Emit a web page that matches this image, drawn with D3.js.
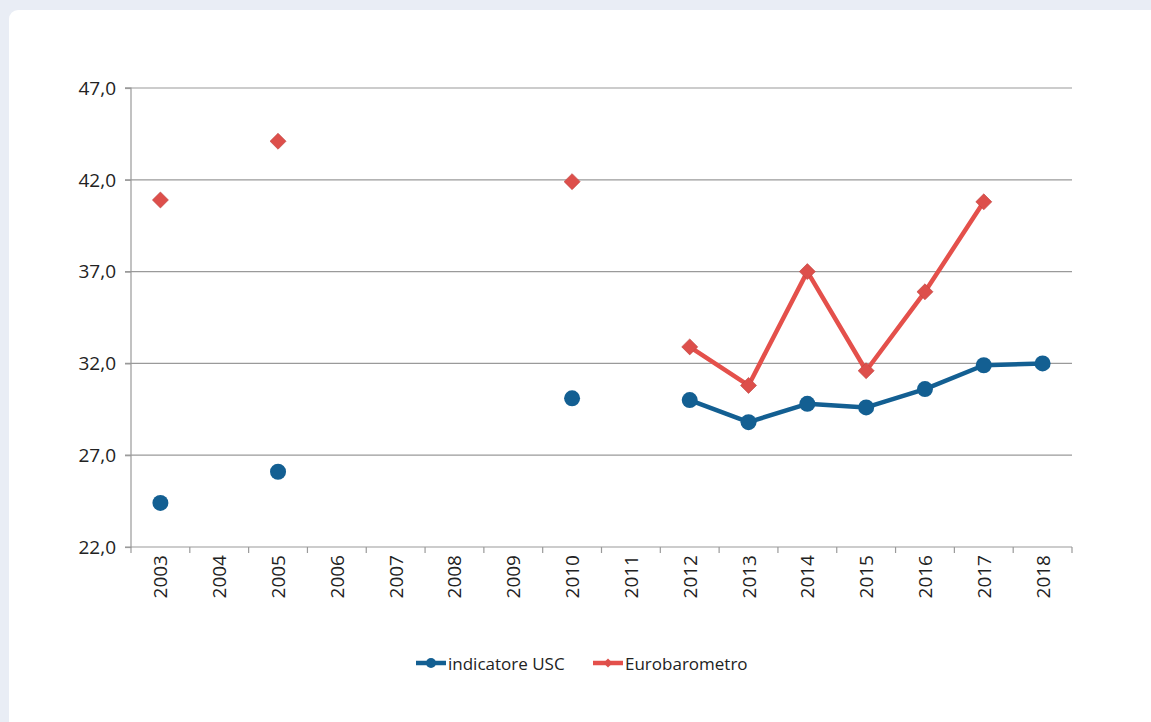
<!DOCTYPE html>
<html><head><meta charset="utf-8">
<script src="https://cdn.jsdelivr.net/npm/d3@7"></script>
<style>
html,body{margin:0;padding:0;background:#e9edf5;}
svg{display:block;font-family:"Open Sans","Noto Sans",sans-serif;}
</style></head>
<body>
<svg id="chart" width="1151" height="722"></svg>
<script>
const years = ["2003","2004","2005","2006","2007","2008","2009","2010","2011","2012","2013","2014","2015","2016","2017","2018"];
const usc = [24.4,null,26.1,null,null,null,null,30.1,null,30.0,28.8,29.8,29.6,30.6,31.9,32.0];
const euro = [40.9,null,44.1,null,null,null,null,41.9,null,32.9,30.8,37.0,31.6,35.9,40.8,null];
const yTicks = [22,27,32,37,42,47];
const seriesNames = ["indicatore USC","Eurobarometro"];
const colors = ["#135f92","#e4504b"];

(function(){
const svg = d3.select("#chart");
svg.append("rect").attr("x",9).attr("y",10).attr("width",1160).attr("height",740).attr("rx",9).attr("fill","#ffffff");

const pL=131,pR=1072,pT=88,pB=547;
const x = d3.scaleBand().domain(years).range([pL,pR]);
const y = d3.scaleLinear().domain([22,47]).range([pB,pT]);
const fmt = d => d.toFixed(1).replace(".",",");

// gridlines
svg.append("g").selectAll("line").data(yTicks.slice(1)).join("line")
  .attr("x1",pL-6).attr("x2",pR).attr("y1",d=>y(d)).attr("y2",d=>y(d))
  .attr("stroke","#9a9a9a").attr("stroke-width",1.2);

// y axis
const ya = svg.append("g").attr("transform",`translate(${pL},0)`)
  .call(d3.axisLeft(y).tickValues(yTicks).tickFormat(fmt).tickSize(6).tickPadding(9));
ya.select(".domain").attr("stroke","#9a9a9a").attr("stroke-width",1.2).attr("d",`M-6,${pT}H0V${pB}H-6`);
ya.selectAll(".tick line").attr("stroke","#9a9a9a").attr("stroke-width",1.2);
ya.selectAll("text").attr("font-size",19).attr("fill","#222").attr("dy","0.33em").attr("font-family","'Open Sans','Noto Sans',sans-serif");

// x axis
const xa = svg.append("g").attr("transform",`translate(0,${pB})`);
xa.append("line").attr("x1",pL).attr("x2",pR).attr("stroke","#9a9a9a").attr("stroke-width",1.2);
const bounds = years.map(d=>x(d)).concat([pR]);
xa.selectAll("line.tk").data(bounds).join("line").attr("class","tk")
  .attr("x1",d=>d).attr("x2",d=>d).attr("y1",0).attr("y2",6).attr("stroke","#9a9a9a").attr("stroke-width",1.2);
xa.selectAll("text").data(years).join("text")
  .attr("transform",d=>`translate(${x(d)+x.bandwidth()/2+7},8) rotate(-90)`)
  .attr("text-anchor","end").attr("font-size",19).attr("fill","#222").text(d=>d);

const cx = i => x(years[i]) + x.bandwidth()/2;
const segLine = (arr) => d3.line().defined((d,i)=>d!=null && ((arr[i-1]!=null)||(arr[i+1]!=null))).x((d,i)=>cx(i)).y(d=>y(d))(arr);

svg.append("path").attr("d",segLine(euro)).attr("fill","none").attr("stroke",colors[1]).attr("stroke-width",4.5).attr("stroke-linejoin","round");
svg.append("path").attr("d",segLine(usc)).attr("fill","none").attr("stroke",colors[0]).attr("stroke-width",4.5).attr("stroke-linejoin","round");

const diamond = d3.symbol().type(d3.symbolSquare).size(128);
svg.append("g").selectAll("path").data(euro.map((v,i)=>({v,i})).filter(d=>d.v!=null)).join("path")
  .attr("d",diamond).attr("transform",d=>`translate(${cx(d.i)},${y(d.v)}) rotate(45)`)
  .attr("fill","#dd4f4b").attr("stroke","#c04844").attr("stroke-width",0.6);
svg.append("g").selectAll("circle").data(usc.map((v,i)=>({v,i})).filter(d=>d.v!=null)).join("circle")
  .attr("cx",d=>cx(d.i)).attr("cy",d=>y(d.v)).attr("r",8).attr("fill",colors[0]);

// legend
const leg = [{x:416,tx:448},{x:593,tx:625}];
seriesNames.forEach((n,k)=>{
  const g = svg.append("g");
  g.append("line").attr("x1",leg[k].x).attr("x2",leg[k].x+30).attr("y1",663).attr("y2",663)
    .attr("stroke",colors[k]).attr("stroke-width",4.5);
  if(k===0) g.append("circle").attr("cx",leg[k].x+15).attr("cy",663).attr("r",5).attr("fill",colors[0]);
  else g.append("path").attr("d",d3.symbol().type(d3.symbolSquare).size(40)).attr("transform",`translate(${leg[k].x+15},663) rotate(45)`).attr("fill","#dd4f4b");
  g.append("text").attr("x",leg[k].tx).attr("y",669.5).attr("font-size",17).attr("fill","#222").text(n);
});
})();
</script>
</body></html>
